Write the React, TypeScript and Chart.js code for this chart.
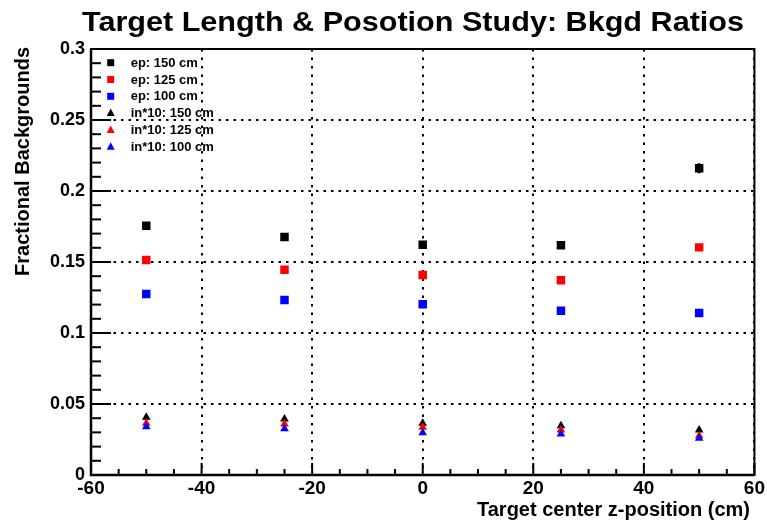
import React, { useEffect, useRef } from 'react';
import { Chart, registerables } from 'chart.js';

Chart.register(...registerables);

// ---------- data ----------
const zPositions = [-50, -25, 0, 25, 50];
const ep150 = [0.1756, 0.1676, 0.1622, 0.1618, 0.216];
const ep150Err = [0, 0, 0, 0, 0.0035];
const ep125 = [0.1514, 0.1446, 0.1408, 0.1372, 0.1603];
const ep100 = [0.1275, 0.1232, 0.1202, 0.1157, 0.1141];
const in150 = [0.0406, 0.0394, 0.0364, 0.0347, 0.0317];
const in125 = [0.0364, 0.0359, 0.0336, 0.0317, 0.0277];
const in100 = [0.034, 0.0326, 0.0298, 0.0289, 0.0258];

const seriesLabels = [
  'ep: 150 cm',
  'ep: 125 cm',
  'ep: 100 cm',
  'in*10: 150 cm',
  'in*10: 125 cm',
  'in*10: 100 cm',
];

const xTickValues = [-60, -40, -20, 0, 20, 40, 60];
const xTickLabels = ['-60', '-40', '-20', '0', '20', '40', '60'];
const yTickValues = [0, 0.05, 0.1, 0.15, 0.2, 0.25, 0.3];
const yTickLabels = ['0', '0.05', '0.1', '0.15', '0.2', '0.25', '0.3'];

const titleText = 'Target Length & Posotion Study: Bkgd Ratios';
const xTitle = 'Target center z-position (cm)';
const yTitle = 'Fractional Backgrounds';

const FONT = '"Liberation Sans", Arial, Helvetica, sans-serif';

const decorPlugin = {
  id: 'decor',
  beforeDatasetsDraw(chart: any) {
    const ctx = chart.ctx;
    const xs = chart.scales.x;
    const ys = chart.scales.y;
    ctx.save();
    ctx.strokeStyle = '#000';
    ctx.lineWidth = 3;
    zPositions.forEach((z, i) => {
      const e = ep150Err[i];
      if (!e) return;
      const px = xs.getPixelForValue(z);
      ctx.beginPath();
      ctx.moveTo(px, ys.getPixelForValue(ep150[i] - e));
      ctx.lineTo(px, ys.getPixelForValue(ep150[i] + e));
      ctx.stroke();
    });
    ctx.restore();
  },
  afterDraw(chart: any) {
    const ctx = chart.ctx;
    const a = chart.chartArea;
    const xs = chart.scales.x;
    const ys = chart.scales.y;
    ctx.save();

    // frame
    ctx.strokeStyle = '#000';
    ctx.lineWidth = 2;
    ctx.strokeRect(a.left, a.top, a.right - a.left, a.bottom - a.top);
    ctx.lineWidth = 2.5;
    ctx.beginPath();
    ctx.moveTo(a.left, a.top);
    ctx.lineTo(a.left, a.bottom);
    ctx.lineTo(a.right, a.bottom);
    ctx.stroke();

    // ticks (inside, ROOT style)
    ctx.lineWidth = 2;
    for (let i = 0; i <= 30; i++) {
      const py = ys.getPixelForValue(i / 100);
      const len = i % 5 === 0 ? 20 : 10;
      ctx.beginPath();
      ctx.moveTo(a.left, py);
      ctx.lineTo(a.left + len, py);
      ctx.stroke();
    }
    for (let v = -60; v <= 60; v += 5) {
      const px = xs.getPixelForValue(v);
      const len = v % 20 === 0 ? 12 : 6;
      ctx.beginPath();
      ctx.moveTo(px, a.bottom);
      ctx.lineTo(px, a.bottom - len);
      ctx.stroke();
    }

    // legend
    chart.data.datasets.forEach((ds: any, i: number) => {
      const cy = a.top + 13.7 + i * 16.8;
      const cx = a.left + 19.7;
      ctx.fillStyle = ds.backgroundColor;
      if (ds.pointStyle === 'rect') {
        ctx.fillRect(cx - 3.5, cy - 3.5, 7, 7);
      } else {
        ctx.beginPath();
        ctx.moveTo(cx, cy - 4.5);
        ctx.lineTo(cx + 4, cy + 3);
        ctx.lineTo(cx - 4, cy + 3);
        ctx.closePath();
        ctx.fill();
      }
      ctx.fillStyle = '#000';
      ctx.font = `bold 13px ${FONT}`;
      ctx.textAlign = 'left';
      ctx.textBaseline = 'middle';
      ctx.fillText(ds.label, a.left + 39.7, cy + 0.5);
    });

    // title
    ctx.fillStyle = '#000';
    ctx.font = `bold 28px ${FONT}`;
    ctx.textBaseline = 'alphabetic';
    ctx.textAlign = 'center';
    const tw = ctx.measureText(titleText).width;
    const sx = 662 / tw;
    ctx.save();
    ctx.translate(413, 31);
    ctx.scale(sx, 1);
    ctx.fillText(titleText, 0, 0);
    ctx.restore();

    // x title
    ctx.font = `bold 20px ${FONT}`;
    ctx.textAlign = 'right';
    ctx.fillText(xTitle, 750, 516);

    // y title
    ctx.save();
    ctx.translate(29, 47);
    ctx.rotate(-Math.PI / 2);
    ctx.textAlign = 'right';
    ctx.fillText(yTitle, 0, 0);
    ctx.restore();

    ctx.restore();
  },
};

function makeSet(label: string, values: number[], color: string, style: string, radius: number, order: number) {
  return {
    label,
    data: zPositions.map((z, i) => ({ x: z, y: values[i] })),
    backgroundColor: color,
    borderColor: color,
    borderWidth: 0,
    pointStyle: style,
    pointRadius: radius,
    pointHoverRadius: radius,
    showLine: false,
    order,
  };
}

export default function App() {
  const ref = useRef<HTMLCanvasElement | null>(null);
  useEffect(() => {
    if (!ref.current) return;
    const chart = new Chart(ref.current, {
      type: 'scatter',
      data: {
        datasets: [
          makeSet(seriesLabels[0], ep150, '#000000', 'rect', 6, 6),
          makeSet(seriesLabels[1], ep125, '#ff0000', 'rect', 6, 5),
          makeSet(seriesLabels[2], ep100, '#0000ff', 'rect', 6, 4),
          makeSet(seriesLabels[3], in150, '#000000', 'triangle', 5, 3),
          makeSet(seriesLabels[4], in125, '#ff0000', 'triangle', 5, 2),
          makeSet(seriesLabels[5], in100, '#0000ff', 'triangle', 5, 1),
        ] as any,
      },
      options: {
        responsive: false,
        animation: false,
        events: [],
        layout: { padding: { top: 49, right: 12, left: 0, bottom: 0 } },
        plugins: {
          legend: { display: false },
          title: { display: false },
          tooltip: { enabled: false },
        },
        scales: {
          x: {
            type: 'linear',
            min: -60,
            max: 60,
            afterBuildTicks: (s: any) => {
              s.ticks = xTickValues.map((v) => ({ value: v }));
            },
            afterFit: (s: any) => {
              s.height = 46;
            },
            ticks: {
              autoSkip: false,
              maxRotation: 0,
              padding: 2,
              color: '#000',
              font: { family: FONT, size: 19, weight: 'bold' },
              callback: (v: any) => xTickLabels[xTickValues.indexOf(Number(v))] ?? '',
            },
            grid: { color: '#000', lineWidth: 2, drawTicks: false },
            border: { display: false, dash: [2.5, 6] },
          },
          y: {
            type: 'linear',
            min: 0,
            max: 0.3,
            afterBuildTicks: (s: any) => {
              s.ticks = yTickValues.map((v) => ({ value: v }));
            },
            afterFit: (s: any) => {
              s.width = 91;
            },
            ticks: {
              autoSkip: false,
              padding: 6,
              color: '#000',
              font: { family: FONT, size: 18, weight: 'bold' },
              callback: (v: any) => {
                const idx = yTickValues.findIndex((t) => Math.abs(t - Number(v)) < 1e-9);
                return idx >= 0 ? yTickLabels[idx] : '';
              },
            },
            grid: { color: '#000', lineWidth: 2, drawTicks: false },
            border: { display: false, dash: [2.5, 5] },
          },
        },
      } as any,
      plugins: [decorPlugin],
    });
    return () => chart.destroy();
  }, []);
  return (
    <canvas
      ref={ref}
      width={767}
      height={521}
      style={{ position: 'absolute', left: 0, top: 0, display: 'block', width: 767, height: 521 }}
    />
  );
}
